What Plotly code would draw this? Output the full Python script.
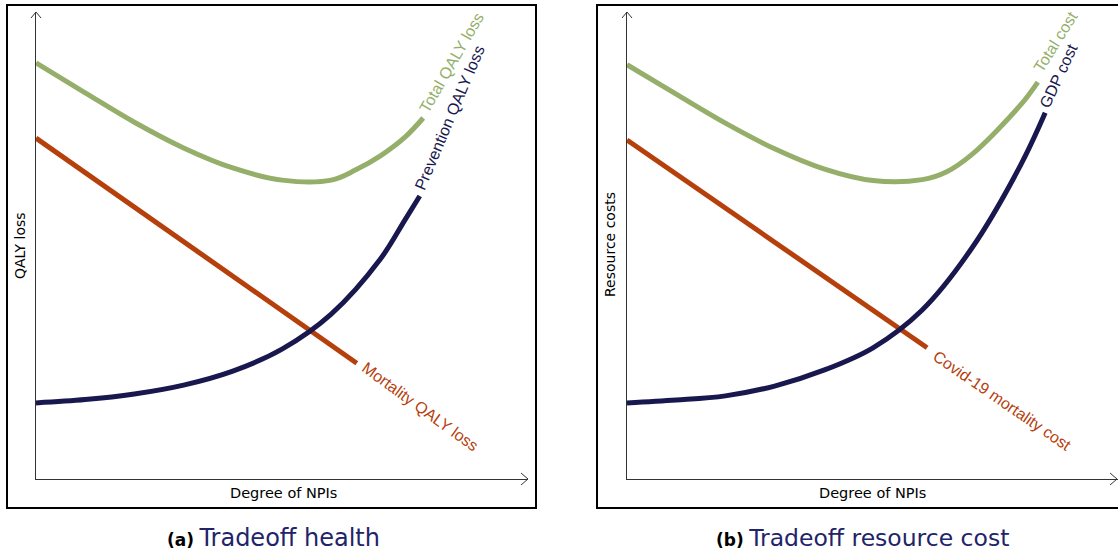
import plotly.graph_objects as go

W, H = 1118, 556

# ---- (a) Tradeoff health: degree of NPIs vs QALY loss ----
npi_prev_a = [0, 1, 2, 3, 4, 5, 6, 7, 7.5, 7.8]
qaly_prev_a = [1.63, 1.70, 1.82, 2.01, 2.31, 2.78, 3.53, 4.71, 5.55, 6.06]

npi_mort_a = [0, 6.52]
qaly_mort_a = [7.30, 2.48]

npi_total_a = [0, 1, 2, 3, 4, 5, 6, 6.5, 7, 7.5, 7.87]
qaly_total_a = [8.91, 8.27, 7.64, 7.09, 6.66, 6.40, 6.40, 6.62, 6.92, 7.32, 7.73]

# ---- (b) Tradeoff resource cost: degree of NPIs vs resource costs ----
npi_gdp_b = [0, 1, 2, 3, 4, 5, 6, 7, 8, 8.5]
cost_gdp_b = [1.63, 1.69, 1.78, 1.99, 2.33, 2.81, 3.62, 4.93, 6.72, 7.84]

npi_mort_b = [0, 6.10]
cost_mort_b = [7.26, 2.81]

npi_total_b = [0, 1, 2, 3, 4, 5, 6, 6.5, 7, 8, 8.35]
cost_total_b = [8.87, 8.24, 7.62, 7.07, 6.64, 6.39, 6.41, 6.58, 6.94, 8.01, 8.50]

GREEN = "#95AF6A"
NAVY = "#18184F"
RED = "#B6400C"
CAPTION_NAVY = "#22236A"

LABEL_FONT = "Liberation Sans, Arial, sans-serif"
AXIS_FONT = "DejaVu Sans, Verdana, sans-serif"


def px(x):
    return x / W


def py(y):
    return 1 - y / H


fig = go.Figure()

series = [
    (npi_total_a, qaly_total_a, GREEN, "spline", "x", "y"),
    (npi_mort_a, qaly_mort_a, RED, "linear", "x", "y"),
    (npi_prev_a, qaly_prev_a, NAVY, "spline", "x", "y"),
    (npi_total_b, cost_total_b, GREEN, "spline", "x2", "y2"),
    (npi_mort_b, cost_mort_b, RED, "linear", "x2", "y2"),
    (npi_gdp_b, cost_gdp_b, NAVY, "spline", "x2", "y2"),
]
for xs, ys, color, shape, xa, ya in series:
    fig.add_trace(go.Scatter(
        x=xs, y=ys, mode="lines", xaxis=xa, yaxis=ya,
        line=dict(color=color, width=5, shape=shape, smoothing=1.0),
        hoverinfo="skip", showlegend=False,
    ))

axis_style = dict(
    showgrid=False, zeroline=False, showticklabels=False, ticks="",
    showline=True, linecolor="#333333", linewidth=1, fixedrange=True,
)
y_domain = [py(479), py(12)]

fig.update_layout(
    width=W, height=H, autosize=False,
    margin=dict(l=0, r=0, t=0, b=0, pad=0),
    paper_bgcolor="white", plot_bgcolor="white",
    xaxis=dict(domain=[px(36), px(528)], range=[0, 10], anchor="y", **axis_style),
    yaxis=dict(domain=y_domain, range=[0, 10], anchor="x", **axis_style),
    xaxis2=dict(domain=[px(627), 1.0], range=[0, (W - 627) / 49.2], anchor="y2", **axis_style),
    yaxis2=dict(domain=y_domain, range=[0, 10], anchor="x2", **axis_style),
)

# panel frames
shapes = [
    dict(type="rect", xref="paper", yref="paper",
         x0=px(7), x1=px(536), y0=py(508), y1=py(5),
         line=dict(color="black", width=2), fillcolor="rgba(0,0,0,0)", layer="below"),
    dict(type="rect", xref="paper", yref="paper",
         x0=px(597), x1=px(1140), y0=py(508), y1=py(5),
         line=dict(color="black", width=2), fillcolor="rgba(0,0,0,0)", layer="below"),
]


# open arrow heads at the end of each axis
def chevron(points):
    d = "M " + " L ".join(f"{px(a)},{py(b)}" for a, b in points)
    return dict(type="path", xref="paper", yref="paper", path=d,
                line=dict(color="#333333", width=1))


for x0 in (36, 627):
    shapes.append(chevron([(x0 - 5, 18), (x0, 12), (x0 + 5, 18)]))
shapes.append(chevron([(521, 473), (528, 479), (521, 485)]))
shapes.append(chevron([(1110, 473), (1117, 479), (1110, 485)]))
fig.update_layout(shapes=shapes)

annotations = []


def label(text, cx, cy, angle, color, size=16, family=LABEL_FONT):
    annotations.append(dict(
        text=text, x=px(cx), y=py(cy), xref="paper", yref="paper",
        xanchor="center", yanchor="middle", textangle=angle, showarrow=False,
        font=dict(family=family, size=size, color=color),
    ))


# curve labels
label("Total QALY loss", 452, 63, -60, GREEN)
label("Prevention QALY loss", 449, 118, -67, NAVY)
label("Mortality QALY loss", 420, 406, 36, RED)
label("Total cost", 1056, 42, -58, GREEN)
label("GDP cost", 1058, 76, -65, NAVY)
label("Covid-19 mortality cost", 1002, 400, 34.5, RED)

# axis titles
label("QALY loss", 20, 246, -90, "black", size=14, family=AXIS_FONT)
label("Resource costs", 610, 245, -90, "black", size=14, family=AXIS_FONT)
label("Degree of NPIs", 283, 493, 0, "black", size=14.5, family=AXIS_FONT)
label("Degree of NPIs", 872, 493, 0, "black", size=14.5, family=AXIS_FONT)

# sub-figure captions
label(f'<b>(a)</b> <span style="color:{CAPTION_NAVY};font-size:24px">Tradeoff health</span>',
      273, 538, 0, "black", size=17, family=AXIS_FONT)
label(f'<b>(b)</b> <span style="color:{CAPTION_NAVY};font-size:23.5px">Tradeoff resource cost</span>',
      862, 538, 0, "black", size=17, family=AXIS_FONT)

fig.update_layout(annotations=annotations)

fig.write_html("out.html")
